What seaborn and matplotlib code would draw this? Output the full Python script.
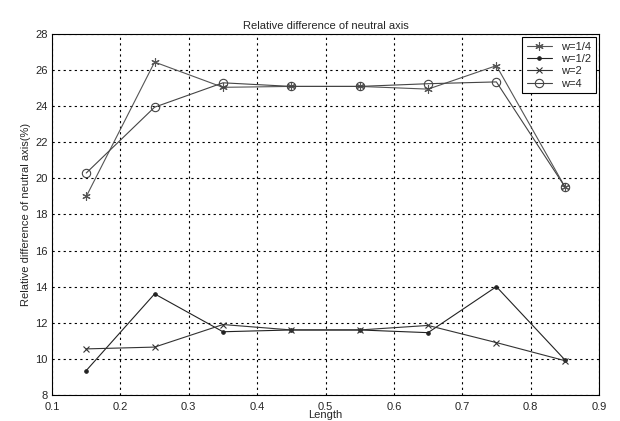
import matplotlib
matplotlib.use("Agg")
import matplotlib.pyplot as plt
import seaborn as sns
import pandas as pd

length = [0.15, 0.25, 0.35, 0.45, 0.55, 0.65, 0.75, 0.85]
w_quarter = [19.0, 26.45, 25.05, 25.1, 25.1, 24.95, 26.25, 19.55]
w_half = [9.35, 13.6, 11.5, 11.6, 11.6, 11.45, 14.0, 9.95]
w_two = [10.55, 10.65, 11.9, 11.6, 11.6, 11.85, 10.9, 9.9]
w_four = [20.3, 23.95, 25.3, 25.1, 25.1, 25.25, 25.35, 19.55]
labels = ["w=1/4", "w=1/2", "w=2", "w=4"]
xticks = [0.1, 0.2, 0.3, 0.4, 0.5, 0.6, 0.7, 0.8, 0.9]
yticks = [8, 10, 12, 14, 16, 18, 20, 22, 24, 26, 28]

sns.set_style("white")
plt.rcParams['font.family'] = ['Liberation Sans', 'DejaVu Sans']

fig = plt.figure(figsize=(6.2, 4.21), dpi=100)
ax = fig.add_axes([0.084, 0.062, 0.882, 0.857])

series = [w_quarter, w_half, w_two, w_four]
markers = [(6, 2, 0), "o", "x", "o"]
msizes = [6, 2.5, 4, 6]
colors = ["#555555", "#222222", "#333333", "#444444"]
for vals, lab, m, ms, c, i in zip(series, labels, markers, msizes, colors, range(4)):
    df = pd.DataFrame({"Length": length, "val": vals})
    sns.lineplot(data=df, x="Length", y="val", ax=ax, label=lab, color=c,
                 marker=m, markersize=ms, linewidth=0.8,
                 markerfacecolor="none" if i == 3 else c,
                 markeredgecolor=c, markeredgewidth=0.8)

ax.set_xlim(0.1, 0.9)
ax.set_ylim(8, 28)
ax.set_xticks(xticks)
ax.set_yticks(yticks)
ax.set_xticklabels([f"{t:g}" for t in xticks], fontsize=8)
ax.set_yticklabels([str(t) for t in yticks], fontsize=8)
ax.tick_params(direction="in", length=3)
ax.tick_params(axis="x", pad=5)
ax.tick_params(axis="y", pad=3)
ax.grid(True, color="black", linestyle=(0, (2, 3)), linewidth=0.8)
for s in ax.spines.values():
    s.set_color("black")
    s.set_linewidth(0.8)
ax.set_title("Relative difference of neutral axis", fontsize=8, pad=4)
ax.set_xlabel("Length", fontsize=8, labelpad=-1)
ax.set_ylabel("Relative difference of neutral axis(%)", fontsize=8, labelpad=3)
leg = ax.legend(loc="upper right", fontsize=8, fancybox=False, framealpha=1,
                edgecolor="black", borderaxespad=0.3, handlelength=2.3,
                labelspacing=0.2, borderpad=0.4)
leg.get_frame().set_linewidth(0.8)

fig.savefig("out.png", dpi=100)
